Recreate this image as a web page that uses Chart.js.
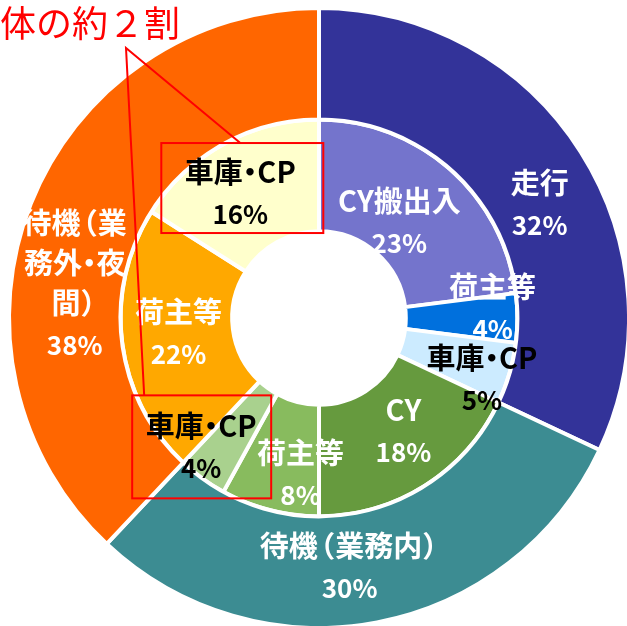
<!DOCTYPE html>
<html>
<head>
<meta charset="utf-8">
<script src="https://cdn.jsdelivr.net/npm/chart.js@4"></script>
<style>
  html, body { margin: 0; padding: 0; background: #fff; overflow: hidden; }
  #wrap { width: 627px; height: 626px; }
</style>
</head>
<body>
<div id="wrap"><canvas id="workChart" width="627" height="626"></canvas></div>
<script>
// === DATA ===
const outerNames = [["走行"], ["待機（業務内）"], ["待機（業", "務外・夜", "間）"]];
const outerValues = [32, 30, 38];
const outerColors = ["#333399", "#3C8C92", "#FF6600"];

const innerNames = [["CY搬出入"], ["荷主等"], ["車庫・CP"], ["CY"], ["荷主等"], ["車庫・CP"], ["荷主等"], ["車庫・CP"]];
const innerValues = [23, 4, 5, 18, 8, 4, 22, 16];
const innerColors = ["#7474CC", "#0070DD", "#CCEBFF", "#669A3E", "#88BB5E", "#A9D18E", "#FFA800", "#FFFFCC"];
const innerTextColors = ["#fff", "#fff", "#000", "#fff", "#fff", "#000", "#fff", "#000"];

// small nudges from the arc centre so labels sit where the original put them
const outerNudge = [[6, 21], [-17, -2], [-8, 59]];
const innerNudge = [[-14, 10], [31, -11], [26, 20], [8, -8], [17, 17], [-34, 13], [1, -4], [-10, -1]];

// inner slices that get the red highlight box
const highlighted = [7, 5];
const noteText = "全体の約２割";

const FONT = '"Noto Sans CJK JP", "Noto Sans", sans-serif';
const labelBoxes = {};

// draw one line, squeezing full-width punctuation like a proportional font
function drawLine(c, text, cx, y) {
  const parts = [...text].map(ch => {
    const w = c.measureText(ch).width;
    let adv = w, off = 0;
    if (ch === "・") { adv = w * 0.5; off = -(w - adv) / 2; }
    else if (ch === "（") { adv = w * 0.6; off = -(w - adv); }
    else if (ch === "）") { adv = w * 0.6; }
    return { ch, adv, off };
  });
  const total = parts.reduce((s, p) => s + p.adv, 0);
  let x = cx - total / 2;
  c.textAlign = "left";
  parts.forEach(p => {
    c.fillText(p.ch, x + p.off, y);
    x += p.adv;
  });
}

const labelPlugin = {
  id: "ringLabels",
  afterDatasetsDraw(chart) {
    const c = chart.ctx;
    c.save();
    c.textBaseline = "middle";

    chart.data.datasets.forEach((ds, di) => {
      const meta = chart.getDatasetMeta(di);
      meta.data.forEach((arc, i) => {
        const p = arc.getProps(["x", "y", "startAngle", "endAngle", "innerRadius", "outerRadius"], true);
        const a = (p.startAngle + p.endAngle) / 2;
        const r = (p.innerRadius + p.outerRadius) / 2;
        const nudge = ds.nudge[i];
        const cx = p.x + Math.cos(a) * r + nudge[0];
        const cy = p.y + Math.sin(a) * r + nudge[1];
        const lines = ds.names[i].concat([ds.data[i] + "%"]);
        const step = 40;
        const top = cy - (lines.length - 1) * step / 2;
        c.fillStyle = ds.textColors[i];
        lines.forEach((t, k) => {
          const isPct = k === lines.length - 1;
          c.font = "bold " + (isPct ? 26 : 29) + "px " + FONT;
          drawLine(c, t, cx, top + k * step + (isPct ? 2 : 0));
        });
        if (di === 1) labelBoxes[i] = { cx, cy };
      });
    });

    // red note: boxes round two labels, lines to the text
    c.strokeStyle = "#FF0000";
    c.lineWidth = 2;
    const b1 = labelBoxes[highlighted[0]];
    const b2 = labelBoxes[highlighted[1]];
    const r1 = { x: b1.cx - 79, y: b1.cy - 49, w: 162, h: 90 };
    const r2 = { x: b2.cx - 69, y: b2.cy - 51, w: 139, h: 103 };
    c.strokeRect(r1.x, r1.y, r1.w, r1.h);
    c.strokeRect(r2.x, r2.y, r2.w, r2.h);
    const apex = { x: 126, y: 48 };
    c.beginPath();
    c.moveTo(r1.x + 79, r1.y);
    c.lineTo(apex.x, apex.y);
    c.lineTo(r2.x + 12, r2.y);
    c.stroke();

    c.fillStyle = "#FF0000";
    c.font = "36px " + FONT;
    c.textAlign = "right";
    c.fillText(noteText, 180, 23);
    c.restore();
  }
};

new Chart(document.getElementById("workChart"), {
  type: "doughnut",
  data: {
    labels: innerNames.map(n => n.join("")),
    datasets: [
      {
        data: outerValues,
        names: outerNames,
        nudge: outerNudge,
        textColors: ["#fff", "#fff", "#fff"],
        backgroundColor: outerColors,
        borderColor: "#fff",
        borderWidth: 4
      },
      {
        data: innerValues,
        names: innerNames,
        nudge: innerNudge,
        textColors: innerTextColors,
        backgroundColor: innerColors,
        borderColor: "#fff",
        borderWidth: 4
      }
    ]
  },
  options: {
    responsive: false,
    animation: false,
    radius: 310,
    cutout: "28%",
    layout: { padding: { left: 11, top: 10, right: 0, bottom: 0 } },
    plugins: {
      legend: { display: false },
      tooltip: { enabled: false }
    }
  },
  plugins: [labelPlugin]
});
</script>
</body>
</html>
